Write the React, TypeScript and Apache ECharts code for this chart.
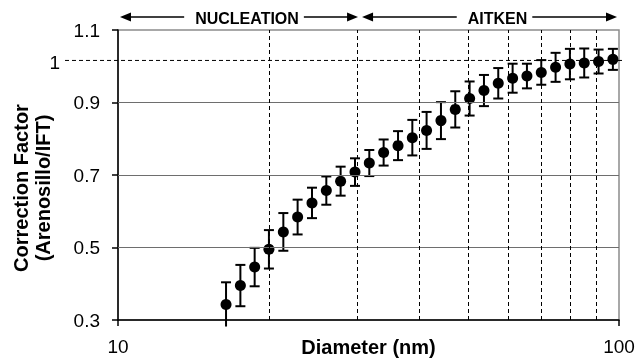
import React, { useEffect, useRef } from "react";
import * as echarts from "echarts";

const diameters = [16.43, 17.55, 18.74, 20.01, 21.38, 22.83, 24.39, 26.05, 27.82, 29.72, 31.74, 33.9, 36.22, 38.68, 41.3, 44.12, 47.12, 50.33, 53.76, 57.41, 61.33, 65.5, 69.96, 74.72, 79.8, 85.23, 91.04, 97.23];
const correctionFactor = [0.343, 0.395, 0.446, 0.495, 0.543, 0.584, 0.623, 0.657, 0.683, 0.708, 0.733, 0.762, 0.781, 0.803, 0.823, 0.85, 0.881, 0.911, 0.933, 0.953, 0.967, 0.973, 0.983, 0.997, 1.006, 1.009, 1.013, 1.019];
const errorHalf = [0.061, 0.057, 0.053, 0.053, 0.052, 0.048, 0.042, 0.039, 0.04, 0.038, 0.036, 0.036, 0.04, 0.049, 0.051, 0.051, 0.05, 0.047, 0.043, 0.042, 0.04, 0.034, 0.034, 0.04, 0.042, 0.04, 0.033, 0.029];
const yTickValues = [0.3, 0.5, 0.7, 0.9, 1.1];
const yGridValues = [0.5, 0.7, 0.9];
const xGuideValues = [20, 30, 40, 50, 60, 70, 80, 90];
const referenceValue = 1.016;
const referenceLabel = "1";
const regionNames = ["NUCLEATION", "AITKEN"];
const regionBounds = [10, 30, 100];
const xTitle = "Diameter (nm)";
const yTitle = "Correction Factor\n(Arenosillo/IFT)";

const FONT = '"Liberation Sans", Arial, sans-serif';
const Y_MIN = 0.3;
const Y_MAX = 1.1;

function measure(text: string, font: string): number {
  const c = document.createElement("canvas");
  const ctx = c.getContext("2d");
  if (!ctx) return text.length * 10;
  ctx.font = font;
  return ctx.measureText(text).width;
}

export default function App() {
  const ref = useRef<HTMLDivElement>(null);

  useEffect(() => {
    if (!ref.current) return;
    const chart = echarts.init(ref.current, null, { renderer: "svg" });

    const points = diameters.map((d, i) => [d, correctionFactor[i]]);
    const bars = diameters.map((d, i) => [d, correctionFactor[i], errorHalf[i]]);

    const option: any = {
      animation: false,
      grid: {
        left: 118,
        right: 20,
        top: 30,
        bottom: 39,
        outerBoundsMode: "none",
        containLabel: false,
        show: true,
        borderColor: "#8c8c8c",
        borderWidth: 1.5,
        backgroundColor: "transparent",
      },
      xAxis: {
        type: "log",
        logBase: 10,
        min: 10,
        max: 100,
        axisLine: { show: true, lineStyle: { color: "#000", width: 1.5 } },
        axisTick: { show: true, length: 6, lineStyle: { color: "#000", width: 1.5 } },
        minorTick: { show: false },
        splitLine: { show: false },
        axisLabel: { fontSize: 19, color: "#000", fontFamily: FONT, margin: 17 },
        name: xTitle,
        nameLocation: "middle",
        nameGap: 17,
        nameMoveOverlap: false,
        nameTextStyle: { fontSize: 20, fontWeight: "bold", color: "#000", fontFamily: FONT },
      },
      yAxis: {
        type: "value",
        min: Y_MIN,
        max: Y_MAX,
        axisLine: { show: true, lineStyle: { color: "#000", width: 1.5 } },
        axisTick: { show: true, length: 6, customValues: yTickValues, lineStyle: { color: "#000", width: 1.5 } },
        splitLine: { show: false },
        axisLabel: {
          fontSize: 19,
          color: "#000",
          fontFamily: FONT,
          margin: 18,
          customValues: yTickValues,
          formatter: (v: number) => String(Math.round(v * 10) / 10),
        },
      },
      series: [
        {
          type: "custom",
          name: "error",
          clip: false,
          z: 3,
          data: bars,
          renderItem: (params: any, api: any) => {
            const x = api.value(0);
            const y = api.value(1);
            const e = api.value(2);
            const top = api.coord([x, y + e]);
            const bot = api.coord([x, y - e]);
            const cap = 5;
            const children: any[] = [
              { type: "line", shape: { x1: top[0], y1: top[1], x2: bot[0], y2: bot[1] }, style: { stroke: "#000", lineWidth: 2 } },
              { type: "line", shape: { x1: top[0] - cap, y1: top[1], x2: top[0] + cap, y2: top[1] }, style: { stroke: "#000", lineWidth: 2 } },
            ];
            if (y - e >= Y_MIN) {
              children.push({ type: "line", shape: { x1: bot[0] - cap, y1: bot[1], x2: bot[0] + cap, y2: bot[1] }, style: { stroke: "#000", lineWidth: 2 } });
            }
            return { type: "group", children };
          },
        },
        {
          type: "scatter",
          name: "Correction factor",
          z: 4,
          symbol: "circle",
          symbolSize: 11,
          itemStyle: { color: "#000", opacity: 1 },
          data: points,
          markLine: {
            silent: true,
            symbol: "none",
            label: { show: false },
            animation: false,
            data: [
              ...yGridValues.map((v) => ({ yAxis: v, lineStyle: { type: "solid", color: "#6e6e6e", width: 1.2 } })),
              ...xGuideValues.map((v) => ({ xAxis: v, lineStyle: { type: [4, 3], color: "#000", width: 1 } })),
            ],
          },
        },
      ],
    };

    chart.setOption(option);

    const px = (x: number, y: number) => chart.convertToPixel({ gridIndex: 0 }, [x, y]) as number[];
    const refY = px(10, referenceValue)[1];
    const xRight = px(100, Y_MIN)[0];
    const arrowY = 17;
    const textFont = `bold 16px ${FONT}`;

    const arrowHead = (tipX: number, dir: number) => ({
      type: "polygon",
      shape: { points: [[tipX, arrowY], [tipX - dir * 11, arrowY - 4.5], [tipX - dir * 11, arrowY + 4.5]] },
      style: { fill: "#000" },
    });
    const shaft = (x1: number, x2: number) => ({
      type: "line",
      shape: { x1, y1: arrowY, x2, y2: arrowY },
      style: { stroke: "#000", lineWidth: 1.5 },
    });

    const graphics: any[] = [
      {
        type: "line",
        shape: { x1: 65, y1: refY, x2: xRight + 6, y2: refY },
        style: { stroke: "#000", lineWidth: 1, lineDash: [4, 3] },
        z: 2,
      },
      {
        type: "text",
        x: 60,
        y: refY + 2,
        style: { text: referenceLabel, font: `19px ${FONT}`, fill: "#000", align: "right", verticalAlign: "middle" },
      },
      {
        type: "text",
        x: 32,
        y: 188,
        rotation: Math.PI / 2,
        style: {
          text: yTitle,
          font: `bold 20px ${FONT}`,
          fill: "#000",
          align: "center",
          verticalAlign: "middle",
          lineHeight: 22,
        },
      },
    ];

    regionNames.forEach((name, i) => {
      const leftTip = px(regionBounds[i], Y_MIN)[0] + (i === 0 ? 2 : 5);
      const rightTip = px(regionBounds[i + 1], Y_MIN)[0] + (i === 0 ? 1 : -2);
      const center = (leftTip + rightTip) / 2 + 8;
      const w = measure(name, textFont);
      graphics.push(
        shaft(leftTip + 8, center - w / 2 - 11),
        arrowHead(leftTip, -1),
        shaft(center + w / 2 + 5, rightTip - 8),
        arrowHead(rightTip, 1),
        {
          type: "text",
          x: center,
          y: arrowY + 1,
          style: { text: name, font: textFont, fill: "#000", align: "center", verticalAlign: "middle" },
        }
      );
    });

    chart.setOption({ graphic: graphics });

    return () => chart.dispose();
  }, []);

  return <div ref={ref} style={{ position: "fixed", left: 0, top: 0, width: 639, height: 359 }} />;
}
